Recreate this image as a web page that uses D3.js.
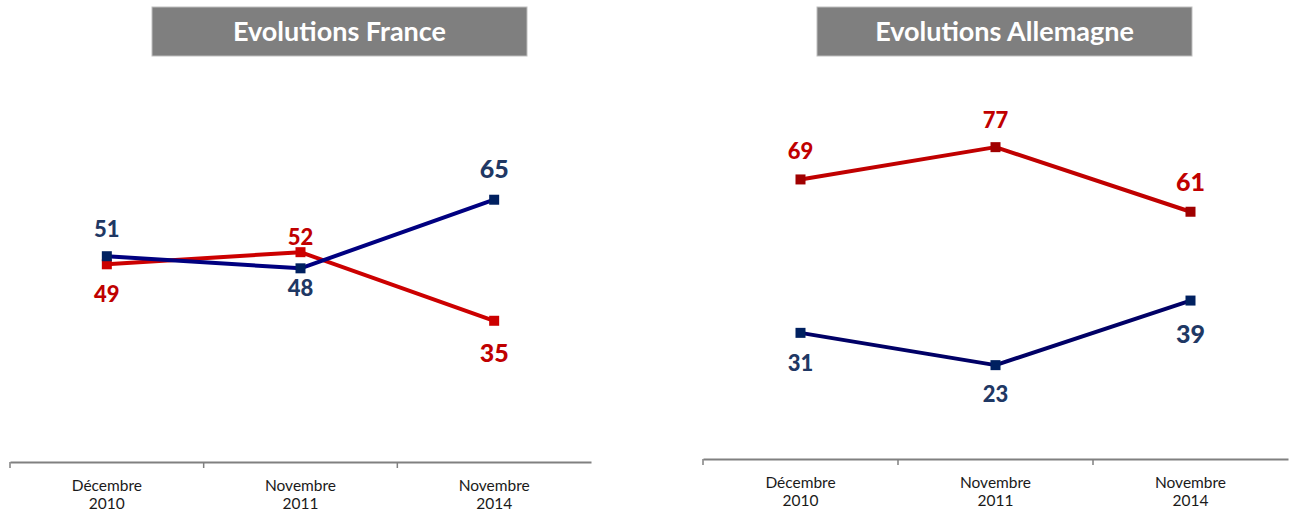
<!DOCTYPE html>
<html>
<head>
<meta charset="utf-8">
<script src="https://cdn.jsdelivr.net/npm/d3@7"></script>
<style>
  html, body { margin: 0; padding: 0; background: #ffffff; }
  svg { display: block; }
</style>
</head>
<body>
<svg id="chart" width="1290" height="513"></svg>
<script>
// ---- Data ----
const categories = ["Décembre\n2010", "Novembre\n2011", "Novembre\n2014"];
const franceTitle = "Evolutions France";
const germanyTitle = "Evolutions Allemagne";
const franceRed = [49, 52, 35];
const franceBlue = [51, 48, 65];
const germanyRed = [69, 77, 61];
const germanyBlue = [31, 23, 39];

// ---- Styling / label placement (pixels, relative to marker) ----
const franceRedDy = [38, -7, 41];
const franceBlueDy = [-19, 28, -22];
const germanyRedDy = [-20, -19, -21];
const germanyBlueDy = [38, 37, 42];

const svg = d3.select("#chart");
const FONT = "Lato, 'Open Sans', sans-serif";

function panel(cfg) {
  const g = svg.append("g");
  // Title box
  g.append("rect")
    .attr("x", cfg.box[0]).attr("y", 7)
    .attr("width", cfg.box[1] - cfg.box[0]).attr("height", 49)
    .attr("fill", "#7f7f7f").attr("stroke", "#bfbfbf").attr("stroke-width", 1);
  g.append("text")
    .attr("x", (cfg.box[0] + cfg.box[1]) / 2).attr("y", 41)
    .attr("text-anchor", "middle")
    .attr("fill", "#ffffff")
    .style("font-family", FONT).style("font-weight", "bold").style("font-size", "27px")
    .text(cfg.title);

  const x = d3.scaleBand().domain(categories).range([cfg.x0, cfg.x1]);
  const y = d3.scaleLinear().domain([0, 100]).range([cfg.zeroY, cfg.zeroY - 100 * cfg.k]);

  // Axis
  const axis = d3.axisBottom(x).tickSize(0).tickFormat(() => "");
  const ag = g.append("g").attr("transform", `translate(0,${cfg.axisY})`).call(axis);
  ag.select(".domain").attr("stroke", "#808080").attr("stroke-width", 2);
  // boundary tick marks between categories
  const bounds = categories.map(c => x(c));
  ag.selectAll(".bt").data(bounds).enter().append("line")
    .attr("x1", d => d).attr("x2", d => d)
    .attr("y1", 0).attr("y2", 6)
    .attr("stroke", "#808080").attr("stroke-width", 1.5);
  // Category labels
  categories.forEach(c => {
    const lines = c.split("\n");
    const t = g.append("text")
      .attr("x", x(c) + x.bandwidth() / 2)
      .attr("y", cfg.axisY + 29)
      .attr("text-anchor", "middle")
      .attr("fill", "#1a1a1a")
      .style("font-family", FONT).style("font-size", "15.5px");
    lines.forEach((l, i) => {
      t.append("tspan").attr("x", x(c) + x.bandwidth() / 2).attr("dy", i === 0 ? 0 : 18).text(l);
    });
  });

  const cx = i => x(categories[i]) + x.bandwidth() / 2;
  const line = d3.line().x((d, i) => cx(i)).y(d => y(d));

  cfg.series.forEach(s => {
    g.append("path").datum(s.values)
      .attr("d", line)
      .attr("fill", "none")
      .attr("stroke", s.lineColor)
      .attr("stroke-width", 4)
      .attr("stroke-linejoin", "round");
  });
  cfg.series.forEach(s => {
    g.selectAll(null).data(s.values).enter().append("rect")
      .attr("x", (d, i) => cx(i) - 5).attr("y", d => y(d) - 5)
      .attr("width", 10).attr("height", 10)
      .attr("fill", s.markerColor);
    g.selectAll(null).data(s.values).enter().append("text")
      .attr("x", (d, i) => cx(i))
      .attr("y", (d, i) => y(d) + s.dy[i])
      .attr("text-anchor", "middle")
      .attr("fill", s.labelColor)
      .style("font-family", FONT).style("font-weight", "900")
      .style("font-size", (d, i) => i === s.values.length - 1 ? "25px" : "22px")
      .text(d => d);
  });
}

panel({
  title: franceTitle, box: [152, 527],
  x0: 10, x1: 591, axisY: 462, zeroY: 462, k: 4.035,
  series: [
    { values: franceRed, lineColor: "#cc0000", markerColor: "#cc0000", labelColor: "#c00000", dy: franceRedDy },
    { values: franceBlue, lineColor: "#000080", markerColor: "#002060", labelColor: "#1f3864", dy: franceBlueDy }
  ]
});

panel({
  title: germanyTitle, box: [817, 1192],
  x0: 703, x1: 1288, axisY: 459, zeroY: 458, k: 4.037,
  series: [
    { values: germanyRed, lineColor: "#c00000", markerColor: "#a00000", labelColor: "#c00000", dy: germanyRedDy },
    { values: germanyBlue, lineColor: "#000066", markerColor: "#002060", labelColor: "#1f3864", dy: germanyBlueDy }
  ]
});
</script>
</body>
</html>
